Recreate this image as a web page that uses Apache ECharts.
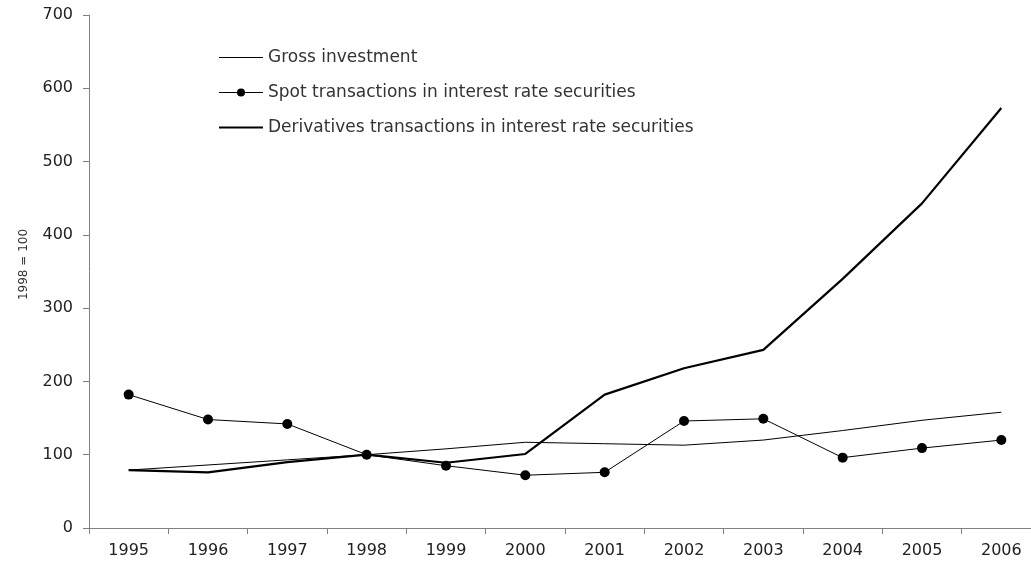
<!DOCTYPE html>
<html>
<head>
<meta charset="utf-8">
<script src="https://cdn.jsdelivr.net/npm/echarts@6/dist/echarts.min.js"></script>
<style>html,body{margin:0;padding:0;background:#fff;overflow:hidden}#c{width:1041px;height:567px}</style>
</head>
<body>
<div id="c"></div>
<script>
const years = ['1995','1996','1997','1998','1999','2000','2001','2002','2003','2004','2005','2006'];
const grossInvestment = [79, 86, 93, 100, 108, 117, 115, 113, 120, 133, 147, 158];
const spotTransactions = [182, 148, 142, 100, 85, 72, 76, 146, 149, 96, 109, 120];
const derivativesTransactions = [79, 76, 90, 100, 89, 101, 182, 218, 243, 340, 443, 573];
const yTicks = [0, 100, 200, 300, 400, 500, 600, 700];
const seriesNames = ['Gross investment', 'Spot transactions in interest rate securities', 'Derivatives transactions in interest rate securities'];

const font = '"DejaVu Sans", sans-serif';
const hidden = {color: 'rgba(0,0,0,0)', borderWidth: 0, opacity: 0};
const chart = echarts.init(document.getElementById('c'));
chart.setOption({
  animation: false,
  textStyle: {fontFamily: font},
  grid: {left: 89, top: 15, bottom: 39, right: 0},
  legend: {
    orient: 'vertical', left: 218, top: 49, itemGap: 18, padding: 0,
    itemWidth: 44, itemHeight: 10,
    textStyle: {fontSize: 17, color: '#333', fontFamily: font},
    data: [
      {name: seriesNames[0], itemStyle: hidden, lineStyle: {color: '#000', width: 1}},
      {name: seriesNames[1], lineStyle: {color: '#000', width: 1}},
      {name: seriesNames[2], itemStyle: hidden, lineStyle: {color: '#000', width: 2}}
    ]
  },
  xAxis: {
    type: 'category', data: years, boundaryGap: true,
    axisLine: {lineStyle: {color: '#808080', width: 1}},
    axisTick: {show: true, length: 6, lineStyle: {color: '#808080'}},
    axisLabel: {fontSize: 16, color: '#222', margin: 15, interval: 0}
  },
  yAxis: {
    type: 'value', min: yTicks[0], max: yTicks[yTicks.length - 1], interval: 100,
    name: '1998 = 100', nameLocation: 'middle', nameGap: 59, nameRotate: 90,
    nameTextStyle: {fontSize: 12, color: '#333', padding: [0, 0, 0, 14]},
    splitLine: {show: false},
    axisLine: {show: true, lineStyle: {color: '#808080', width: 1}},
    axisTick: {show: true, length: 6, lineStyle: {color: '#808080'}},
    axisLabel: {fontSize: 16, color: '#222', margin: 16}
  },
  series: [
    {name: seriesNames[0], type: 'line', data: grossInvestment, symbol: 'none',
     lineStyle: {color: '#000', width: 1}, itemStyle: {color: '#000'}},
    {name: seriesNames[1], type: 'line', data: spotTransactions, symbol: 'circle', symbolSize: 10,
     lineStyle: {color: '#000', width: 1}, itemStyle: {color: '#000'}},
    {name: seriesNames[2], type: 'line', data: derivativesTransactions, symbol: 'none',
     lineStyle: {color: '#000', width: 2.2}, itemStyle: {color: '#000'}}
  ]
});
</script>
</body>
</html>
